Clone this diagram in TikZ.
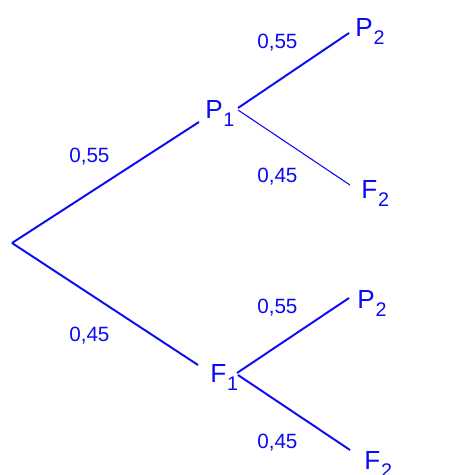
\documentclass[tikz,border=0pt]{standalone}
\usepackage{fontspec}
\setmainfont{Liberation Sans}
\definecolor{treeblue}{RGB}{10,10,245}
\newcommand{\mysubtext}[2]{#1\kern0.6pt\raisebox{-6.2pt}{\fontsize{14.8}{15}\selectfont #2}}
\begin{document}
\begin{tikzpicture}[x=0.75pt,y=-0.75pt,
  branch/.style={draw=treeblue,line width=1.45pt},
  thinbranch/.style={draw=treeblue,line width=0.8pt},
  event/.style={anchor=base west,inner sep=0pt,text=treeblue,font=\fontsize{19.6}{20}\selectfont},
  prob/.style={anchor=base west,inner sep=0pt,text=treeblue,font=\fontsize{15.5}{16}\selectfont}]
\useasboundingbox (0,0) rectangle (474,475);
% event labels
\node[event] (P1) at (205,118) {\mysubtext{P}{1}};
\node[event] (F1) at (210,382) {\mysubtext{F}{1}};
\node[event] (P2a) at (355,36) {\mysubtext{P}{2}};
\node[event] (F2a) at (361,198) {\mysubtext{F}{2}};
\node[event] (P2b) at (357,308) {\mysubtext{P}{2}};
\node[event] (F2b) at (364,469) {\mysubtext{F}{2}};
% probability labels
\node[prob] (q1) at (69,162) {0,55};
\node[prob] (q2) at (69,341) {0,45};
\node[prob] (q3) at (257,48) {0,55};
\node[prob] (q4) at (257,182) {0,45};
\node[prob] (q5) at (257,313) {0,55};
\node[prob] (q6) at (257,448) {0,45};
% branch end points
\coordinate (root) at (12,243);
\coordinate (P1in) at (199,122);
\coordinate (F1in) at (198,365);
\coordinate (P1outa) at (238,108);
\coordinate (P1outb) at (238,110);
\coordinate (F1outa) at (237,373);
\coordinate (F1outb) at (238,375);
\coordinate (P2ain) at (349,33);
\coordinate (F2ain) at (350,185);
\coordinate (P2bin) at (349,298);
\coordinate (F2bin) at (350,450);
% branches
\draw[branch] (root) -- (P1in);
\draw[branch] (root) -- (F1in);
\draw[branch] (P1outa) -- (P2ain);
\draw[thinbranch] (P1outb) -- (F2ain);
\draw[branch] (F1outa) -- (P2bin);
\draw[branch] (F1outb) -- (F2bin);
\end{tikzpicture}
\end{document}
